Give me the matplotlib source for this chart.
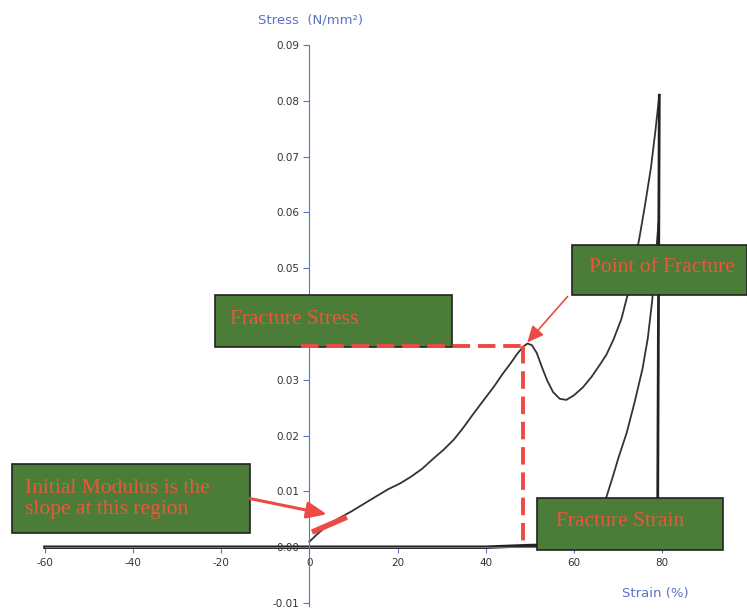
import matplotlib.pyplot as plt
from matplotlib.patches import Rectangle

# stress-strain data
strain_base = [-60, -40, -20, 0, 20, 40, 50, 62, 85]
stress_base = [0, 0, 0, 0, 0, 0, 0.0003, 0.0005, 0]

strain_load = [0, 2, 4, 6.5, 9.5, 12, 14.5, 17.9, 20.5, 23, 25.5, 28.3, 30.5, 32.8,
               35, 37.3, 39.5, 41.9, 43.8, 45.7, 47.3, 48.6, 49.5, 50.5, 51.6, 52.8,
               54, 55.3, 56.8, 58.3, 60, 62, 64, 66, 67.4, 69, 70.8, 72.3, 73.7,
               74.9, 76.2, 77.5, 78.5, 79.4]
stress_load = [0.001, 0.0025, 0.0038, 0.0051, 0.0064, 0.0076, 0.0088, 0.0104, 0.0114,
               0.0126, 0.014, 0.016, 0.0175, 0.0193, 0.0215, 0.024, 0.0263, 0.0288,
               0.031, 0.033, 0.0348, 0.036, 0.0365, 0.0362, 0.0348, 0.0322, 0.0298,
               0.0278, 0.0266, 0.0264, 0.0272, 0.0286, 0.0305, 0.0328, 0.0345, 0.0372,
               0.0409, 0.0455, 0.0505, 0.0555, 0.0615, 0.068, 0.0745, 0.081]

strain_second = [62, 63.5, 65, 66.3, 67.4, 68.8, 70.2, 72, 73.8, 75.6, 76.8, 77.8,
                 78.6, 79.2]
stress_second = [0.0005, 0.0015, 0.0035, 0.006, 0.009, 0.0125, 0.0162, 0.0205,
                 0.026, 0.032, 0.0375, 0.0443, 0.052, 0.058]

strain_drop = [79.4, 79.2, 79.0]
stress_drop = [0.081, 0.04, 0.0]

fracture_strain = 48.5
fracture_stress = 0.0361

x_ticks = [-60, -40, -20, 0, 20, 40, 60, 80]
y_ticks = [-0.01, 0, 0.01, 0.02, 0.03, 0.04, 0.05, 0.06, 0.07, 0.08, 0.09]
# 0.04 sits behind the "Fracture Stress" box in the original
y_labels = ["-0.01", "0.00", "0.01", "0.02", "0.03", "", "0.05", "0.06", "0.07", "0.08", "0.09"]

blue = "#5a72cc"
red = "#ec4a44"
green = "#4b7d38"
txt_red = "#e8583c"

fig = plt.figure(figsize=(7.47, 6.11), dpi=100)
ax = fig.add_axes([0, 0, 1, 1])
ax.set_xlim(-70.2, 99.3)
ax.set_ylim(-0.01143, 0.09806)

ax.spines["left"].set_position(("data", 0))
ax.spines["bottom"].set_position(("data", 0))
ax.spines["right"].set_visible(False)
ax.spines["top"].set_visible(False)
ax.spines["left"].set_color(blue)
ax.spines["bottom"].set_color(blue)
ax.spines["left"].set_bounds(-0.0105, 0.09)
ax.spines["bottom"].set_bounds(-60, 92)

ax.set_xticks(x_ticks)
ax.set_yticks(y_ticks)
ax.set_xticklabels([str(v) for v in x_ticks])
ax.set_yticklabels(y_labels)
ax.tick_params(colors=blue, labelcolor="#333333", labelsize=7.5, length=4)
ax.patch.set_visible(False)

ax.plot(strain_base, stress_base, color="#222222", lw=2.5, zorder=2)
ax.plot(strain_load, stress_load, color="#333333", lw=1.3, zorder=2)
ax.plot(strain_second, stress_second, color="#333333", lw=1.3, zorder=2)
ax.plot(strain_drop, stress_drop, color="#222222", lw=2, zorder=2)

# dashed fracture guides
dash = (0, (4.5, 2))
ax.plot([-2, fracture_strain], [fracture_stress, fracture_stress], color=red, lw=2.8, ls=dash, zorder=4)
ax.plot([fracture_strain, fracture_strain], [fracture_stress, 0], color=red, lw=2.8, ls=dash, zorder=4)

# initial slope marker
ax.plot([0.6, 8.5], [0.0027, 0.0054], color=red, lw=4, solid_capstyle="butt", zorder=4)

# boxes (figure pixels)
W, H = 747, 611


def box(x0, y0, x1, y1):
    ax.add_patch(Rectangle((x0 / W, 1 - y1 / H), (x1 - x0) / W, (y1 - y0) / H,
                           transform=fig.transFigure, facecolor=green,
                           edgecolor="#222222", lw=1.2, zorder=3, clip_on=False))


box(215, 295, 452, 347)
box(572, 245, 747, 295)
box(12, 464, 250, 533)
box(537, 498, 723, 550)

serif = "Liberation Serif"
ax.text(230 / W, 1 - 319 / H, "Fracture Stress", color=txt_red, fontsize=15.5,
        family=serif, va="center", zorder=6, transform=fig.transFigure)
ax.text(662 / W, 1 - 268 / H, "Point of Fracture", color=txt_red, fontsize=15.5,
        family=serif, va="center", ha="center", zorder=6, transform=fig.transFigure)
ax.text(25 / W, 1 - 499 / H, "Initial Modulus is the\nslope at this region", color=txt_red,
        fontsize=15.5, family=serif, va="center", linespacing=1.2, zorder=6,
        transform=fig.transFigure)
ax.text(620 / W, 1 - 522 / H, "Fracture Strain", color=txt_red, fontsize=15.5,
        family=serif, va="center", ha="center", zorder=6, transform=fig.transFigure)

# arrows
ax.annotate("", xy=(fracture_strain + 0.5, fracture_stress + 0.0002), xytext=(59, 0.0453),
            arrowprops=dict(arrowstyle="-|>,head_length=1.0,head_width=0.45", color=red, lw=1.2),
            zorder=5)
ax.annotate("", xy=(4.6, 0.0058), xytext=(-14, 0.0088),
            arrowprops=dict(arrowstyle="-|>,head_length=1.2,head_width=0.5", color=red, lw=2.2),
            zorder=5)

# axis titles
fig.text(310 / W, 1 - 20 / H, "Stress  (N/mm\u00b2)", color=blue, fontsize=9.5, ha="center", va="center")
fig.text(655 / W, 1 - 593 / H, "Strain (%)", color=blue, fontsize=9.5, ha="center", va="center")

plt.savefig("out.png", dpi=100)
